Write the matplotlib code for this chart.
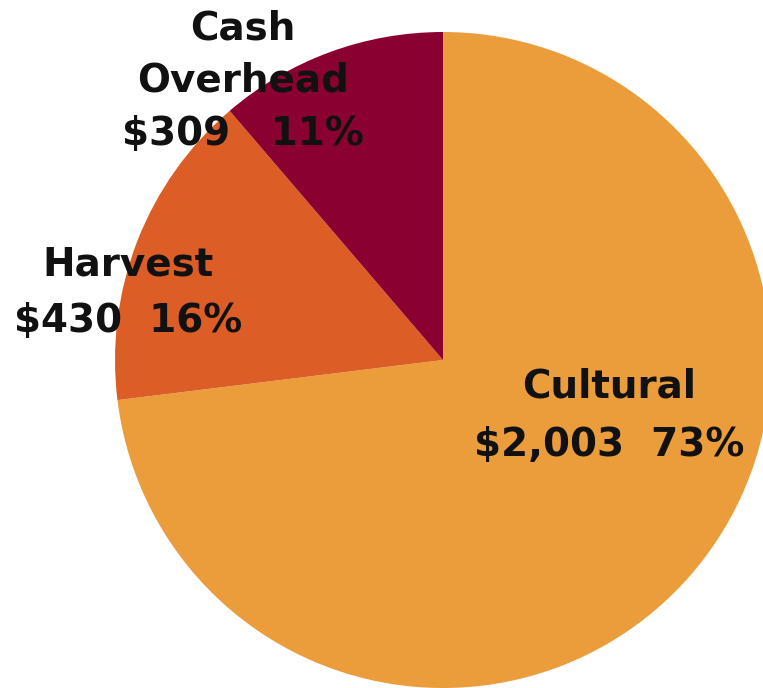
import matplotlib
matplotlib.use("Agg")
import matplotlib.pyplot as plt

categories = ["Cultural", "Harvest", "Cash\nOverhead"]
values = [2003, 430, 309]
percent_labels = ["73%", "16%", "11%"]
colors = ["#EB9C3B", "#DC5D25", "#8A0030"]

W, H = 763, 688
fig = plt.figure(figsize=(W / 100, H / 100), dpi=100)
ax = fig.add_axes([0, 0, 1, 1])

ax.pie(values, colors=colors, startangle=90, counterclock=False,
       radius=328, center=(443, H - 360), frame=True,
       wedgeprops=dict(linewidth=0, antialiased=True))
ax.set_xlim(0, W)
ax.set_ylim(0, H)
ax.set_aspect("equal")
ax.axis("off")

font = dict(family="DejaVu Sans", fontweight="bold", fontsize=28, color="#111111",
            ha="center", va="baseline")

# label lines: (x center px, baselines px from top, gap between value and percent)
layout = [
    (609, [397, 456], "  "),
    (128, [275, 332], "  "),
    (243, [40, 92, 145], "   "),
]
for (cx, baselines, gap), name, val, pct in zip(layout, categories, values, percent_labels):
    lines = name.split("\n") + [f"${val:,}{gap}{pct}"]
    for line, by in zip(lines, baselines):
        ax.text(cx, H - by, line, **font)

fig.savefig("out.png", dpi=100)
